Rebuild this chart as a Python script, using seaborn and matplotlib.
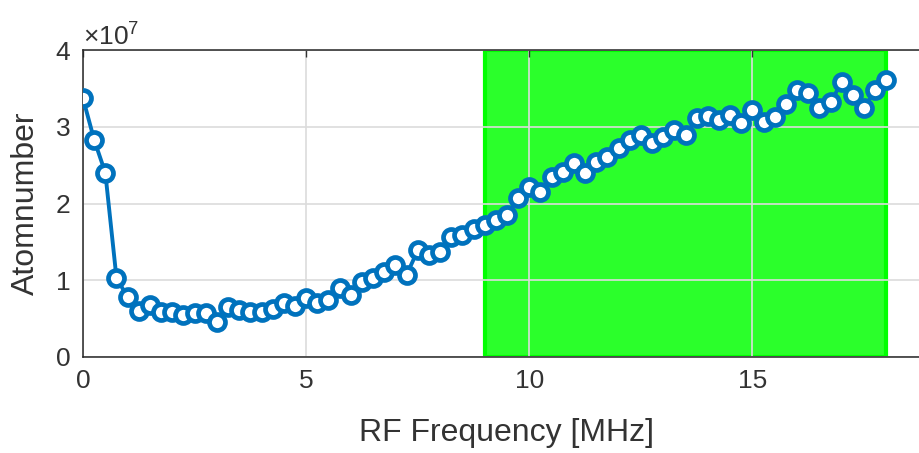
import numpy as np
import matplotlib
matplotlib.use('Agg')
import matplotlib.pyplot as plt
from matplotlib.ticker import ScalarFormatter
import seaborn as sns

# RF sweep
freq_mhz = [0.0, 0.25, 0.5, 0.75, 1.0, 1.25, 1.5, 1.75, 2.0, 2.25, 2.5, 2.75,
            3.0, 3.25, 3.5, 3.75, 4.0, 4.25, 4.5, 4.75, 5.0, 5.25, 5.5, 5.75,
            6.0, 6.25, 6.5, 6.75, 7.0, 7.25, 7.5, 7.75, 8.0, 8.25, 8.5, 8.75,
            9.0, 9.25, 9.5, 9.75, 10.0, 10.25, 10.5, 10.75, 11.0, 11.25, 11.5, 11.75,
            12.0, 12.25, 12.5, 12.75, 13.0, 13.25, 13.5, 13.75, 14.0, 14.25, 14.5, 14.75,
            15.0, 15.25, 15.5, 15.75, 16.0, 16.25, 16.5, 16.75, 17.0, 17.25, 17.5, 17.75,
            18.0]
# atom number in units of 1e7
atoms_1e7 = [3.37, 2.83, 2.40, 1.03, 0.78, 0.60, 0.68, 0.59, 0.58, 0.55, 0.57, 0.57,
             0.45, 0.65, 0.61, 0.59, 0.59, 0.63, 0.70, 0.66, 0.77, 0.70, 0.74, 0.90,
             0.81, 0.98, 1.03, 1.11, 1.20, 1.07, 1.39, 1.33, 1.37, 1.56, 1.59, 1.67,
             1.72, 1.78, 1.85, 2.07, 2.22, 2.15, 2.35, 2.41, 2.53, 2.40, 2.54, 2.61,
             2.72, 2.83, 2.89, 2.79, 2.87, 2.96, 2.89, 3.11, 3.14, 3.09, 3.15, 3.05,
             3.22, 3.06, 3.13, 3.30, 3.48, 3.44, 3.24, 3.32, 3.58, 3.41, 3.24, 3.48,
             3.61]
window_mhz = [9, 18]
x_ticks = [0, 5, 10, 15]
y_ticks = [0, 1, 2, 3, 4]
scale = 1e7

sns.set_style('white')
plt.rcParams['font.family'] = ['Liberation Sans', 'DejaVu Sans']
plt.rcParams['mathtext.fontset'] = 'custom'
plt.rcParams['mathtext.rm'] = 'Liberation Sans'

ink = '#333333'
blue = '#0072bd'

fig = plt.figure(figsize=(9.19, 4.53), dpi=100)
# axes runs past the right edge of the picture, like the cropped original
ax = fig.add_axes([83 / 919, 96 / 453, 848 / 919, 307 / 453])

# highlighted window
ax.axvspan(window_mhz[0], window_mhz[1], facecolor='#2bff2b', edgecolor='#00ff00',
           lw=3, zorder=0.3)

atoms = np.array(atoms_1e7) * scale
sns.lineplot(x=freq_mhz, y=atoms, ax=ax, color=blue, lw=2.8, marker='o',
             markersize=11.5, markerfacecolor='white', markeredgecolor=blue,
             markeredgewidth=3.4, zorder=3)

ax.set_xlim(0, 19)
ax.set_ylim(0, 4 * scale)
ax.set_xticks(x_ticks)
ax.set_yticks([v * scale for v in y_ticks])

fmt = ScalarFormatter(useMathText=True)
fmt.set_powerlimits((0, 0))
ax.yaxis.set_major_formatter(fmt)
ax.yaxis.get_offset_text().set_fontsize(19)
ax.yaxis.get_offset_text().set_color('#555555')

ax.grid(True, color='#dcdcdc', lw=1.2)
ax.set_axisbelow(True)
ax.tick_params(direction='in', top=True, right=True, length=5, width=1,
               labelsize=19, color=ink, labelcolor=ink, pad=9)
for sp in ax.spines.values():
    sp.set_color('#262626')
    sp.set_linewidth(1.1)

ax.set_xlabel('RF Frequency [MHz]', fontsize=23, color=ink, labelpad=18)
ax.set_ylabel('Atomnumber', fontsize=23, color=ink, labelpad=10)

fig.savefig('out.png', dpi=100)
